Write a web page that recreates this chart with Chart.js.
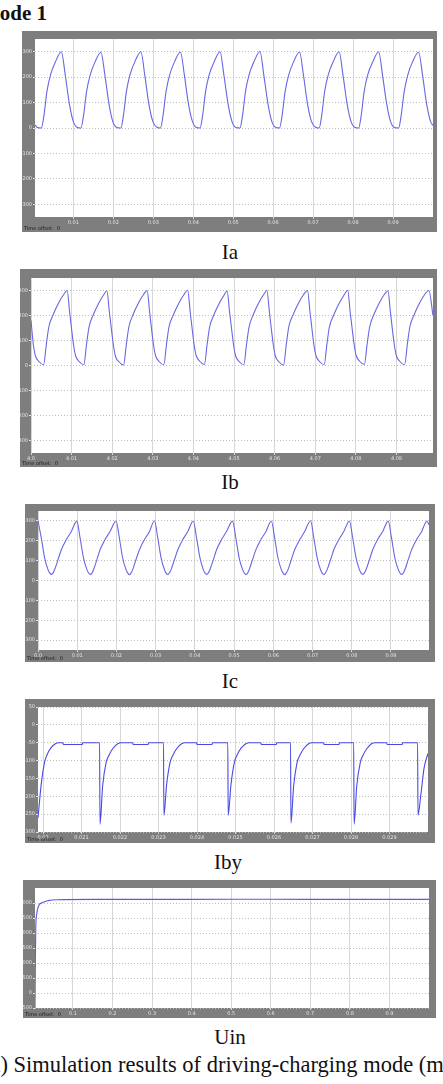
<!DOCTYPE html>
<html>
<head>
<meta charset="utf-8">
<script src="https://cdn.jsdelivr.net/npm/chart.js@4.4.0/dist/chart.umd.min.js"></script>
<style>
body{margin:0;width:443px;height:1084px;background:#fff;position:relative;overflow:hidden;font-family:"Liberation Serif",serif;}
canvas{position:absolute;}
.cap{position:absolute;font-size:21px;line-height:1;color:#111;white-space:nowrap;}
</style>
</head>
<body>
<div class="cap" style="left:-20px;top:3px;font-weight:bold;">Mode 1</div>

<canvas id="ia" width="415" height="201" style="left:22px;top:31px"></canvas>
<div class="cap" style="left:0;width:460px;text-align:center;top:242px">Ia</div>

<canvas id="ib" width="417" height="198" style="left:20px;top:269px"></canvas>
<div class="cap" style="left:0;width:460px;text-align:center;top:472px">Ib</div>

<canvas id="ic" width="410" height="158" style="left:25px;top:504px"></canvas>
<div class="cap" style="left:0;width:460px;text-align:center;top:671px">Ic</div>

<canvas id="iby" width="410" height="144" style="left:25px;top:699px"></canvas>
<div class="cap" style="left:0;width:456px;text-align:center;top:852px">Iby</div>

<canvas id="uin" width="413" height="138" style="left:23px;top:880px"></canvas>
<div class="cap" style="left:0;width:460px;text-align:center;top:1027px">Uin</div>

<div class="cap" style="left:-17px;top:1054px;font-size:22.5px">(a) Simulation results of driving-charging mode (mode 1)</div>

<script>
// scope traces (x in grid divisions)
const iaTime = [
	0.04, 0.10,
	0.20, 0.26, 0.34, 0.43, 0.55, 0.70, 0.80, 0.90, 1.00, 1.10,
	1.19, 1.25, 1.33, 1.42, 1.54, 1.69, 1.79, 1.89, 1.99, 2.09,
	2.19, 2.25, 2.33, 2.42, 2.54, 2.69, 2.79, 2.89, 2.99, 3.09,
	3.18, 3.24, 3.32, 3.41, 3.53, 3.68, 3.78, 3.88, 3.98, 4.08,
	4.17, 4.23, 4.31, 4.40, 4.52, 4.67, 4.77, 4.87, 4.97, 5.07,
	5.17, 5.23, 5.31, 5.40, 5.52, 5.67, 5.77, 5.87, 5.97, 6.07,
	6.16, 6.22, 6.30, 6.39, 6.51, 6.66, 6.76, 6.86, 6.96, 7.06,
	7.15, 7.21, 7.29, 7.38, 7.50, 7.65, 7.75, 7.85, 7.95, 8.05,
	8.14, 8.20, 8.28, 8.37, 8.49, 8.64, 8.74, 8.84, 8.94, 9.04,
	9.14, 9.20, 9.28, 9.37, 9.49, 9.64, 9.74, 9.84, 9.94, 10.0
];
const iaValues = [
	12, 2,
	0, 45, 145, 210, 260, 300, 205, 95, 25, 2,
	0, 44, 143, 208, 259, 298, 207, 96, 24, 2,
	0, 46, 146, 211, 261, 300, 204, 94, 25, 3,
	0, 45, 144, 209, 260, 299, 206, 95, 26, 2,
	0, 44, 145, 210, 259, 300, 205, 96, 25, 2,
	0, 46, 146, 211, 261, 301, 204, 95, 24, 2,
	0, 45, 144, 209, 260, 299, 206, 94, 25, 3,
	0, 44, 145, 210, 260, 300, 205, 95, 25, 2,
	0, 45, 146, 211, 259, 300, 204, 96, 24, 2,
	0, 46, 144, 209, 261, 298, 206, 95, 25, 10
];

const ibTime = [
	0.00, 0.06, 0.11, 0.20, 0.31, 0.38, 0.44, 0.55, 0.68, 0.80,
	0.89, 0.95, 1.00, 1.05, 1.10, 1.19, 1.30, 1.37, 1.43, 1.54, 1.67, 1.79,
	1.87, 1.93, 1.98, 2.03, 2.08, 2.17, 2.28, 2.35, 2.41, 2.52, 2.65, 2.77,
	2.86, 2.92, 2.97, 3.02, 3.07, 3.16, 3.27, 3.34, 3.40, 3.51, 3.64, 3.76,
	3.86, 3.92, 3.97, 4.02, 4.07, 4.16, 4.27, 4.34, 4.40, 4.51, 4.64, 4.76,
	4.83, 4.89, 4.94, 4.99, 5.04, 5.13, 5.24, 5.31, 5.37, 5.48, 5.61, 5.73,
	5.81, 5.87, 5.92, 5.97, 6.02, 6.11, 6.22, 6.29, 6.35, 6.46, 6.59, 6.71,
	6.81, 6.87, 6.92, 6.97, 7.02, 7.11, 7.22, 7.29, 7.35, 7.46, 7.59, 7.71,
	7.80, 7.86, 7.91, 7.96, 8.01, 8.10, 8.21, 8.28, 8.34, 8.45, 8.58, 8.70,
	8.79, 8.85, 8.90, 8.95, 9.00, 9.09, 9.20, 9.27, 9.33, 9.44, 9.57, 9.69,
	9.80, 9.90
];
const ibValues = [
	180, 80, 38, 15, 3, 88, 155, 205, 250, 283,
	300, 215, 145, 80, 38, 15, 3, 88, 155, 205, 250, 283,
	299, 214, 146, 81, 37, 14, 2, 87, 154, 206, 251, 284,
	300, 216, 144, 79, 38, 15, 3, 89, 156, 204, 249, 282,
	301, 215, 145, 80, 39, 16, 4, 88, 155, 205, 250, 283,
	299, 214, 146, 81, 38, 15, 3, 87, 154, 206, 251, 284,
	300, 216, 144, 80, 37, 14, 2, 88, 156, 205, 250, 283,
	300, 215, 145, 79, 38, 15, 3, 89, 155, 204, 249, 282,
	301, 214, 146, 81, 39, 16, 4, 88, 154, 206, 251, 284,
	299, 216, 144, 80, 38, 15, 3, 87, 155, 205, 250, 283,
	300, 200
];

const icTime = [
	0.00, 0.085, 0.17, 0.255, 0.30, 0.34, 0.38, 0.425, 0.51, 0.595, 0.72, 0.85,
	0.99, 1.075, 1.16, 1.245, 1.29, 1.33, 1.37, 1.415, 1.50, 1.585, 1.71, 1.84,
	1.99, 2.075, 2.16, 2.245, 2.29, 2.33, 2.37, 2.415, 2.50, 2.585, 2.71, 2.84,
	2.97, 3.055, 3.14, 3.225, 3.27, 3.31, 3.35, 3.395, 3.48, 3.565, 3.69, 3.82,
	3.96, 4.045, 4.13, 4.215, 4.26, 4.30, 4.34, 4.385, 4.47, 4.555, 4.68, 4.81,
	4.96, 5.045, 5.13, 5.215, 5.26, 5.30, 5.34, 5.385, 5.47, 5.555, 5.68, 5.81,
	5.95, 6.035, 6.12, 6.205, 6.25, 6.29, 6.33, 6.375, 6.46, 6.545, 6.67, 6.80,
	6.95, 7.035, 7.12, 7.205, 7.25, 7.29, 7.33, 7.375, 7.46, 7.545, 7.67, 7.80,
	7.94, 8.025, 8.11, 8.195, 8.24, 8.28, 8.32, 8.365, 8.45, 8.535, 8.66, 8.79,
	8.93, 9.015, 9.10, 9.185, 9.23, 9.27, 9.31, 9.355, 9.44, 9.525, 9.65, 9.78,
	9.92, 9.97
];
const icValues = [
	300, 213, 113, 55, 37, 30, 37, 55, 105, 155, 205, 247,
	299, 212, 114, 56, 38, 31, 36, 54, 104, 156, 206, 248,
	300, 214, 112, 55, 37, 29, 37, 55, 106, 154, 204, 246,
	301, 213, 113, 54, 36, 30, 38, 56, 105, 155, 205, 247,
	300, 212, 114, 55, 37, 31, 37, 55, 104, 156, 206, 248,
	299, 214, 113, 56, 38, 30, 36, 54, 105, 154, 205, 246,
	300, 213, 112, 55, 37, 29, 37, 55, 106, 155, 204, 247,
	301, 212, 113, 54, 36, 30, 38, 56, 105, 156, 205, 248,
	300, 214, 114, 55, 37, 31, 37, 55, 104, 155, 206, 247,
	299, 213, 113, 56, 38, 30, 36, 54, 105, 154, 205, 246,
	300, 280
];

const ibyTime = [
	-0.13, -0.05, 0.04, 0.10, 0.20, 0.33, 0.42, 0.52, 0.53, 1.02, 1.03, 1.47,
	1.48, 1.55, 1.64, 1.70, 1.81, 1.94, 2.03, 2.33, 2.34, 2.73, 2.74, 3.13,
	3.14, 3.21, 3.30, 3.36, 3.47, 3.60, 3.69, 3.99, 4.00, 4.39, 4.40, 4.80,
	4.81, 4.88, 4.97, 5.03, 5.14, 5.27, 5.36, 5.66, 5.67, 6.06, 6.07, 6.43,
	6.44, 6.51, 6.60, 6.66, 6.77, 6.90, 6.99, 7.29, 7.30, 7.69, 7.70, 8.07,
	8.08, 8.15, 8.24, 8.30, 8.41, 8.54, 8.63, 8.93, 8.94, 9.33, 9.34, 9.73,
	9.74, 9.81, 9.90, 10.0
];
const ibyValues = [
	-261, -170, -105, -85, -65, -52, -50, -50, -55, -55, -50, -50,
	-278, -170, -105, -88, -67, -53, -50, -50, -55, -55, -50, -50,
	-253, -168, -106, -88, -67, -53, -50, -50, -55, -55, -50, -50,
	-253, -170, -105, -87, -66, -53, -50, -50, -55, -55, -50, -50,
	-275, -171, -105, -88, -67, -53, -50, -50, -55, -55, -50, -50,
	-278, -170, -106, -88, -67, -52, -50, -50, -55, -55, -50, -50,
	-253, -200, -120, -80
];

const uinTime = [0.04, 0.05, 0.06, 0.08, 0.13, 0.22, 0.37, 0.60, 1.5, 3.0, 5.0, 7.0, 9.0, 10.0];
const uinValues = [-500, 1200, 2200, 2600, 2900, 3010, 3080, 3110, 3120, 3120, 3125, 3120, 3120, 3120];

const currentTicks = [-300, -200, -100, 0, 100, 200, 300];
const ibyTicks = [-300, -250, -200, -150, -100, -50, 0, 50];
const uinTicks = [-500, 0, 500, 1000, 1500, 2000, 2500, 3000];

const iaLabels = ['0.01', '0.02', '0.03', '0.04', '0.05', '0.06', '0.07', '0.08', '0.09'];
const ibLabels = ['4.0', '4.01', '4.02', '4.03', '4.04', '4.05', '4.06', '4.07', '4.08', '4.09'];
const icLabels = ['0.0', '0.01', '0.02', '0.03', '0.04', '0.05', '0.06', '0.07', '0.08', '0.09'];
const ibyLabels = ['0.02', '0.021', '0.022', '0.023', '0.024', '0.025', '0.026', '0.027', '0.028', '0.029'];
const uinLabels = ['0.1', '0.2', '0.3', '0.4', '0.5', '0.6', '0.7', '0.8', '0.9'];

const scopeFrame = {
	id: 'scopeFrame',
	beforeDraw(chart){
		let ctx = chart.ctx, a = chart.chartArea;
		ctx.save();
		ctx.fillStyle = '#7e7e7e';
		ctx.fillRect(0, 0, chart.width, chart.height);
		ctx.fillStyle = '#ffffff';
		ctx.fillRect(a.left, a.top, a.right - a.left, a.bottom - a.top);
		ctx.restore();
	},
	afterDraw(chart){
		let ctx = chart.ctx;
		ctx.save();
		ctx.font = '5px "DejaVu Sans"';
		ctx.fillStyle = '#1a1a1a';
		ctx.fillText('Time offset:  0', 2, chart.height - 2);
		ctx.restore();
	}
};

function drawScope(id, time, values, o)
{
	let points = time.map((t, i) => ({x: t, y: values[i]}));
	new Chart(document.getElementById(id).getContext('2d'), {
		type: 'line',
		data: {
			datasets: [{
				data: points,
				borderColor: o.color,
				borderWidth: 1.1,
				pointRadius: 0,
				cubicInterpolationMode: 'monotone'
			}]
		},
		options: {
			responsive: false,
			animation: false,
			layout: {padding: {left: 0, top: o.top, right: o.right, bottom: 0}},
			plugins: {legend: {display: false}, tooltip: {enabled: false}},
			scales: {
				x: {
					type: 'linear',
					min: o.xMin,
					max: o.xMax,
					afterBuildTicks: s => { s.ticks = o.xTicks.map(v => ({value: v})); },
					afterFit: s => { s.height = o.bottom; s.paddingLeft = 0; s.paddingRight = 0; },
					grid: {color: '#d6d6d6', lineWidth: 1, tickLength: 2, tickColor: '#d6d6d6'},
					border: {display: false},
					ticks: {
						font: {size: 5, family: 'DejaVu Sans'},
						color: '#e4e4e4',
						padding: 1,
						maxRotation: 0,
						autoSkip: false,
						callback: (v, i) => o.xLabels[i]
					}
				},
				y: {
					min: o.yMin,
					max: o.yMax,
					afterBuildTicks: s => { s.ticks = o.yTicks.map(v => ({value: v})); },
					afterFit: s => { s.width = o.left; s.paddingTop = 0; s.paddingBottom = 0; },
					grid: {color: '#bdbdbd', lineWidth: 1, tickLength: 2, tickColor: '#e4e4e4'},
					border: {display: false, dash: [1, 2]},
					ticks: {
						font: {size: 5, family: 'DejaVu Sans'},
						color: '#e4e4e4',
						padding: 1,
						autoSkip: false,
						callback: v => v
					}
				}
			}
		},
		plugins: [scopeFrame]
	});
}

drawScope('ia', iaTime, iaValues, {left: 13, top: 8, right: 4, bottom: 15, color: '#6767e4',
	xMin: 0.04, xMax: 10, xTicks: [1, 2, 3, 4, 5, 6, 7, 8, 9], xLabels: iaLabels,
	yMin: -350, yMax: 350, yTicks: currentTicks});
drawScope('ib', ibTime, ibValues, {left: 11, top: 9, right: 4, bottom: 14, color: '#6767e4',
	xMin: 0, xMax: 9.9, xTicks: [0, 1, 2, 3, 4, 5, 6, 7, 8, 9], xLabels: ibLabels,
	yMin: -350, yMax: 350, yTicks: currentTicks});
drawScope('ic', icTime, icValues, {left: 13, top: 7, right: 6, bottom: 12, color: '#6767e4',
	xMin: 0, xMax: 9.97, xTicks: [0, 1, 2, 3, 4, 5, 6, 7, 8, 9], xLabels: icLabels,
	yMin: -350, yMax: 350, yTicks: currentTicks});
drawScope('iby', ibyTime, ibyValues, {left: 13, top: 8, right: 7, bottom: 11, color: '#4a4ae2',
	xMin: -0.13, xMax: 10, xTicks: [0, 1, 2, 3, 4, 5, 6, 7, 8, 9], xLabels: ibyLabels,
	yMin: -300, yMax: 50, yTicks: ibyTicks});
drawScope('uin', uinTime, uinValues, {left: 12, top: 8, right: 7, bottom: 10, color: '#5a5ae6',
	xMin: 0.04, xMax: 10, xTicks: [1, 2, 3, 4, 5, 6, 7, 8, 9], xLabels: uinLabels,
	yMin: -500, yMax: 3500, yTicks: uinTicks});
</script>
</body>
</html>
